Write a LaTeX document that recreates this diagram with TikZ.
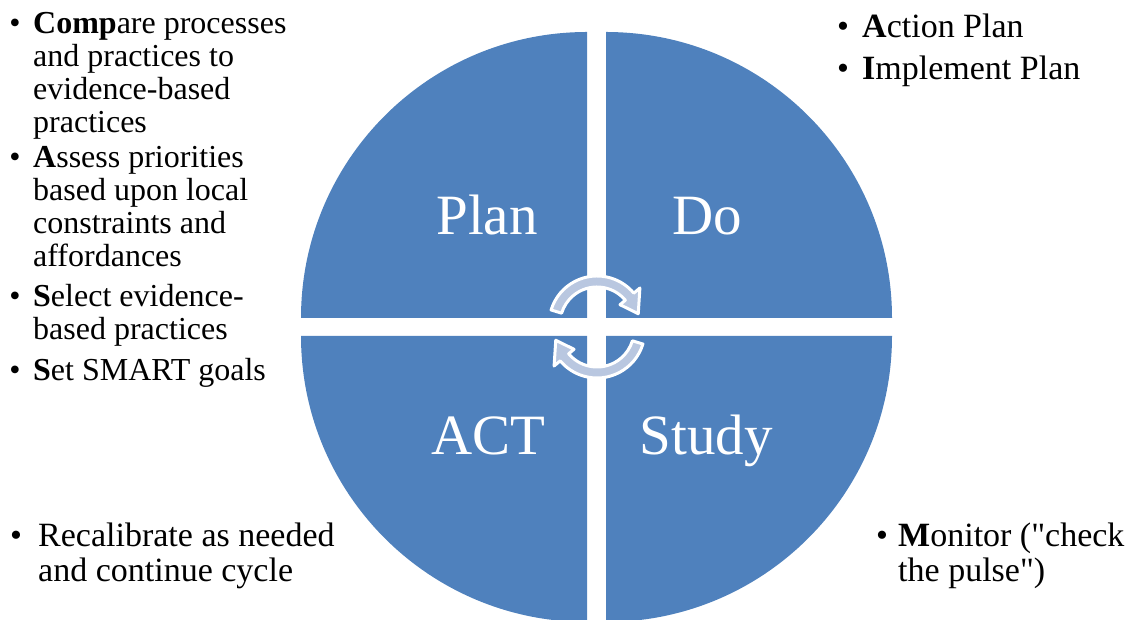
\documentclass[tikz,border=0pt]{standalone}
\usepackage{fontspec}
\setmainfont{Liberation Serif}
\usepackage{xcolor}
\definecolor{pdsblue}{RGB}{79,129,189}
\definecolor{pdslight}{RGB}{185,199,224}

\begin{document}
\begin{tikzpicture}[
    x=1pt, y=1pt,
    quad/.style={fill=pdsblue},
    phase/.style={text=white, anchor=base, inner sep=0pt, font=\fontsize{57}{60}\selectfont},
    item/.style={anchor=base west, inner sep=0pt, align=left, font=\fontsize{32}{33}\selectfont},
    bigitem/.style={item, font=\fontsize{34}{35}\selectfont},
    bul/.style={anchor=base, inner sep=0pt, font=\fontsize{32}{33}\selectfont},
    bigbul/.style={bul, font=\fontsize{34}{35}\selectfont},
    turn/.style={fill=pdslight, draw=white, line width=3pt, line join=round}
]
\useasboundingbox (0,0) rectangle (1133,620);

% Quadrants
\fill[quad] (587,302) -- (301,302) arc[start angle=180, end angle=90, radius=286] -- cycle;
\fill[quad] (606,302) -- (606,588) arc[start angle=90, end angle=0, radius=286] -- cycle;
\fill[quad] (587,284) -- (301,284) arc[start angle=180, end angle=270, radius=286] -- cycle;
\fill[quad] (606,284) -- (892,284) arc[start angle=0, end angle=-90, radius=286] -- cycle;

% Phase names
\node (plan) [phase] at (487,385) {Plan};
\node (do) [phase] at (707,385) {Do};
\node (act) [phase] at (488,165) {ACT};
\node (study) [phase] at (706,165) {Study};

% Cycle arrows
\begin{scope}[shift={(597,296)}]
\filldraw[turn] (163:48) arc[start angle=163, end angle=40, radius=48] -- (40:56) -- (14:42.5) -- (40:30) -- (40:37) arc[start angle=40, end angle=163, radius=37] -- cycle;
\end{scope}
\begin{scope}[shift={(597,290)}, rotate=180]
\filldraw[turn] (163:48) arc[start angle=163, end angle=40, radius=48] -- (40:56) -- (14:42.5) -- (40:30) -- (40:37) arc[start angle=40, end angle=163, radius=37] -- cycle;
\end{scope}

% Plan items (placed at the baseline of their last line)
\node (compare) [item] at (33,487) {\textbf{Comp}are processes\\and practices to\\evidence-based\\practices};
\node (assess) [item] at (33,353) {\textbf{A}ssess priorities\\based upon local\\constraints and\\affordances};
\node (select) [item] at (33,280) {\textbf{S}elect evidence-\\based practices};
\node (smart) [item] at (33,239) {\textbf{S}et SMART goals};
\node (bcompare) [bul] at (15,586) {•};
\node (bassess) [bul] at (15,452) {•};
\node (bselect) [bul] at (15,313) {•};
\node (bsmart) [bul] at (15,239) {•};

% Do items
\node (action) [bigitem] at (862,582) {\textbf{A}ction Plan};
\node (implement) [bigitem] at (862,540) {\textbf{I}mplement Plan};
\node (baction) [bigbul] at (843,582) {•};
\node (bimplement) [bigbul] at (843,540) {•};

% ACT and Study items
\node (recal) [bigitem] at (38,38) {Recalibrate as needed\\and continue cycle};
\node (brecal) [bigbul] at (16,73) {•};
\node (monitor) [bigitem] at (898,38) {\textbf{M}onitor (\textquotedbl check\\the pulse\textquotedbl)};
\node (bmonitor) [bigbul] at (882,73) {•};
\end{tikzpicture}
\end{document}
